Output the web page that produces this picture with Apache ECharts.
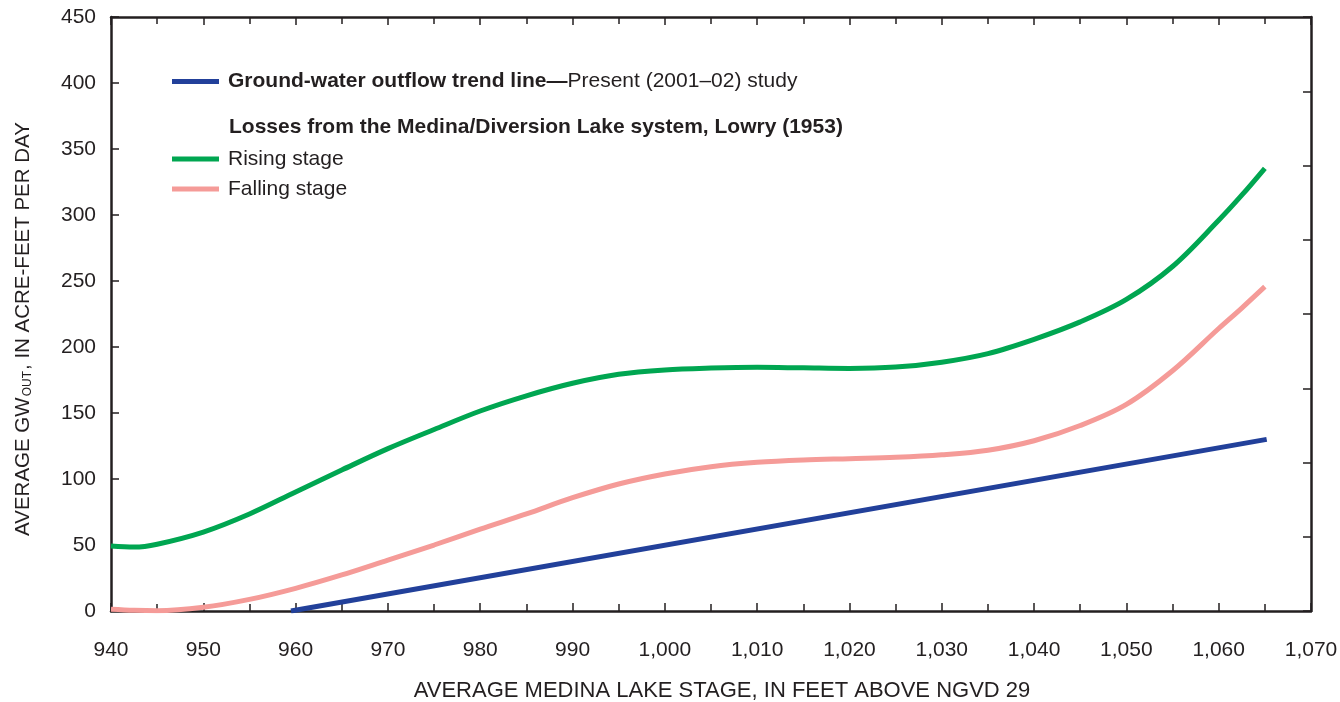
<!DOCTYPE html>
<html>
<head>
<meta charset="utf-8">
<script src="https://cdn.jsdelivr.net/npm/echarts@6/dist/echarts.min.js"></script>
<style>
html,body{margin:0;padding:0;background:#fff;}
#chart{width:1340px;height:702px;}
</style>
</head>
<body>
<div id="chart"></div>
<script>
// ---- Data ----
const stages = [940, 942.5, 945, 950, 955, 960, 965, 970, 975, 980, 985, 990, 995, 1000, 1005, 1010, 1015, 1020, 1025, 1030, 1035, 1040, 1045, 1050, 1055, 1060, 1062.5, 1065];
const risingValues = [49.2, 48.4, 50.6, 59.8, 73.5, 90.2, 106.8, 123, 137.5, 151.5, 163, 172.5, 179.3, 182.6, 184, 184.6, 184.2, 183.8, 184.8, 188.5, 195, 205.8, 219, 236, 261, 296, 315, 335.4];
const fallingValues = [1.3, 0.5, 0.2, 2.8, 8.8, 17.2, 27.3, 38.6, 50, 62, 73.5, 85.8, 96.2, 103.8, 109.3, 112.6, 114.4, 115.4, 116.4, 118.3, 121.8, 129, 140.5, 156.5, 182, 214, 229.5, 245.7];

const trendStage = [959.5, 1065.2];
const trendValues = [0, 130];

const xTicks = { min: 940, max: 1070, step: 10 };
const yTicks = { min: 0, max: 450, step: 50 };

const names = {
  trend: 'Ground-water outflow trend line',
  rising: 'Rising stage',
  falling: 'Falling stage'
};
const legendHeading = 'Losses from the Medina/Diversion Lake system, Lowry (1953)';
const xTitle = 'AVERAGE MEDINA LAKE STAGE, IN FEET ABOVE NGVD 29';

// ---- Chart ----
const pair = (xs, ys) => xs.map((x, i) => [x, ys[i]]);
const FONT = '"Liberation Sans", Arial, Helvetica, sans-serif';
const INK = '#231f20';
const BLUE = '#22409a';
const GREEN = '#00a651';
const PINK = '#f59b98';

const axisCommon = {
  axisLine: { show: true, onZero: false, lineStyle: { color: INK, width: 2.5 } },
  axisTick: { show: true, inside: true, length: 8, lineStyle: { color: INK, width: 1.5 } },
  splitLine: { show: false }
};

const chart = echarts.init(document.getElementById('chart'), null, { renderer: 'canvas' });
chart.setOption({
  animation: false,
  backgroundColor: '#ffffff',
  textStyle: { fontFamily: FONT, color: INK },
  grid: { left: 111, right: 29, top: 17, bottom: 91, containLabel: false, outerBoundsMode: 'none' },
  legend: [
    {
      data: [names.trend],
      left: 172, top: 71, padding: 0,
      icon: 'rect', itemWidth: 47, itemHeight: 5,
      textStyle: {
        fontFamily: FONT, color: INK, fontSize: 21, padding: [0, 0, 0, 4],
        rich: {
          b: { fontFamily: FONT, fontSize: 21, fontWeight: 'bold', color: INK },
          n: { fontFamily: FONT, fontSize: 21, color: INK }
        }
      },
      formatter: function () { return '{b|Ground-water outflow trend line—}{n|Present (2001–02) study}'; },
      selectedMode: false
    },
    {
      data: [names.rising, names.falling],
      left: 172, top: 148, padding: 0, orient: 'vertical', itemGap: 8,
      icon: 'rect', itemWidth: 47, itemHeight: 5,
      textStyle: { fontFamily: FONT, color: INK, fontSize: 21, lineHeight: 22, padding: [0, 0, 0, 4] },
      selectedMode: false
    }
  ],
  graphic: [
    {
      type: 'text', left: 229, top: 117,
      style: { text: legendHeading, font: 'bold 21px ' + FONT, fill: INK }
    }
  ],
  xAxis: [
    Object.assign({}, axisCommon, {
      type: 'value', position: 'bottom',
      min: xTicks.min, max: xTicks.max, interval: xTicks.step,
      minorTick: { show: true, splitNumber: 2, length: 7, lineStyle: { color: INK, width: 1.5 } },
      axisLabel: {
        fontSize: 21, color: INK, fontFamily: FONT, margin: 29,
        formatter: v => v.toLocaleString('en-US')
      },
      name: xTitle, nameLocation: 'middle', nameGap: 69,
      nameTextStyle: { fontSize: 22, color: INK, fontFamily: FONT, padding: [0, 0, 0, 22] }
    }),
    Object.assign({}, axisCommon, {
      type: 'value', position: 'top',
      min: xTicks.min, max: xTicks.max, interval: xTicks.step,
      minorTick: { show: true, splitNumber: 2, length: 7, lineStyle: { color: INK, width: 1.5 } },
      axisLabel: { show: false }
    })
  ],
  yAxis: [
    Object.assign({}, axisCommon, {
      type: 'value', position: 'left',
      min: yTicks.min, max: yTicks.max, interval: yTicks.step,
      axisLabel: { fontSize: 21, color: INK, fontFamily: FONT, margin: 15 },
      name: '{a|AVERAGE GW}{s|OUT}{a|, IN ACRE-FEET PER DAY}',
      nameLocation: 'middle', nameGap: 77, nameRotate: 90,
      nameTextStyle: {
        fontSize: 20.5, color: INK, fontFamily: FONT, padding: [0, 30, 0, 0],
        rich: {
          a: { fontSize: 20.5, fontFamily: FONT, color: INK, lineHeight: 24, verticalAlign: 'bottom' },
          s: { fontSize: 12, fontFamily: FONT, color: INK, lineHeight: 10, verticalAlign: 'bottom', padding: [0, 1, 0, 1] }
        }
      }
    }),
    Object.assign({}, axisCommon, {
      type: 'value', position: 'right',
      min: 0, max: 8, interval: 1,
      axisLabel: { show: false }
    })
  ],
  series: [
    {
      name: names.trend, type: 'line', xAxisIndex: 0, yAxisIndex: 0,
      data: pair(trendStage, trendValues),
      showSymbol: false, symbol: 'none',
      lineStyle: { color: BLUE, width: 5, cap: 'butt' },
      itemStyle: { color: BLUE },
      z: 4
    },
    {
      name: names.rising, type: 'line', xAxisIndex: 0, yAxisIndex: 0,
      data: pair(stages, risingValues),
      smooth: 0.35,
      showSymbol: false, symbol: 'none',
      lineStyle: { color: GREEN, width: 5, cap: 'butt' },
      itemStyle: { color: GREEN },
      z: 3
    },
    {
      name: names.falling, type: 'line', xAxisIndex: 0, yAxisIndex: 0,
      data: pair(stages, fallingValues),
      smooth: 0.35,
      showSymbol: false, symbol: 'none',
      lineStyle: { color: PINK, width: 5, cap: 'butt' },
      itemStyle: { color: PINK },
      z: 3
    }
  ]
});
</script>
</body>
</html>
